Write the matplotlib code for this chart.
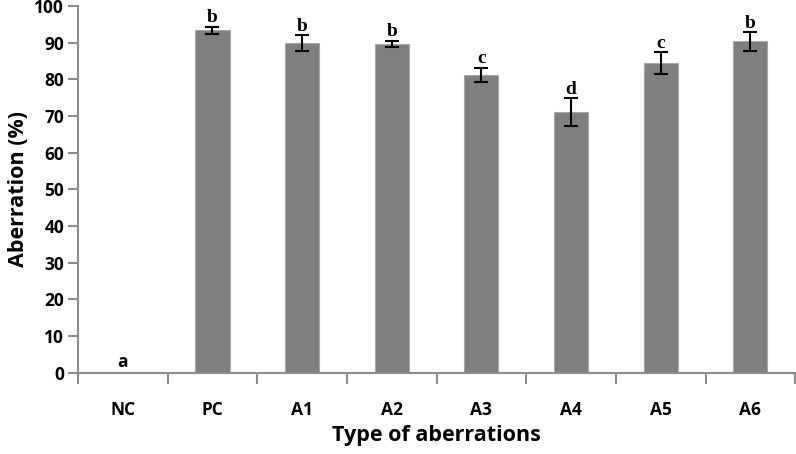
import matplotlib.pyplot as plt
import numpy as np

groups = ['NC', 'PC', 'A1', 'A2', 'A3', 'A4', 'A5', 'A6']
aberration = [0, 93.3, 89.8, 89.6, 81.2, 71.0, 84.3, 90.3]
err = [0, 1.0, 2.2, 0.8, 2.0, 3.8, 3.0, 2.5]
letters = ['a', 'b', 'b', 'b', 'c', 'd', 'c', 'b']

plt.rcParams['font.family'] = ['Open Sans', 'DejaVu Sans']

fig = plt.figure(figsize=(7.96, 4.54), dpi=100)
ax = fig.add_axes([0.098, 0.179, 0.901, 0.808])

x = np.arange(len(groups))
ax.bar(x, aberration, width=0.38, color='#7f7f7f', edgecolor='#a8a8a8', linewidth=0.8, zorder=2)
# error bars only where there is a spread
mask = np.array(err) > 0
ax.errorbar(x[mask], np.array(aberration)[mask], yerr=np.array(err)[mask], fmt='none',
            ecolor='black', elinewidth=1.5, capsize=5, capthick=1.5, zorder=3)

for i, (v, e, t) in enumerate(zip(aberration, err, letters)):
    if v == 0:
        ax.text(i, 0.5, t, ha='center', va='bottom', fontsize=12.5, fontweight='bold')
    else:
        ax.text(i, v + e + 0.2, t, ha='center', va='bottom', fontsize=14,
                fontweight='bold', family='Liberation Serif')

ax.set_xlim(-0.5, len(groups) - 0.5)
ax.set_ylim(0, 100)
ax.set_yticks(np.arange(0, 101, 10))
ax.set_xticks(x)
ax.set_xticklabels(groups)
ax.set_xticks(np.arange(-0.5, len(groups)), minor=True)

for s in ['top', 'right']:
    ax.spines[s].set_visible(False)
for s in ['left', 'bottom']:
    ax.spines[s].set_color('#8c8c8c')
    ax.spines[s].set_linewidth(1.5)

ax.tick_params(axis='y', length=7, width=1.5, color='#8c8c8c', labelsize=12.5, pad=3)
ax.tick_params(axis='x', which='major', length=0, labelsize=12.5, pad=20)
ax.tick_params(axis='x', which='minor', length=8, width=1.5, color='#8c8c8c')
for lab in ax.get_xticklabels() + ax.get_yticklabels():
    lab.set_fontweight('bold')

ax.set_xlabel('Type of aberrations', fontsize=15.5, fontweight='bold', labelpad=5)
ax.set_ylabel('Aberration (%)', fontsize=15.5, fontweight='bold', labelpad=4)

fig.savefig('out.png', dpi=100)
